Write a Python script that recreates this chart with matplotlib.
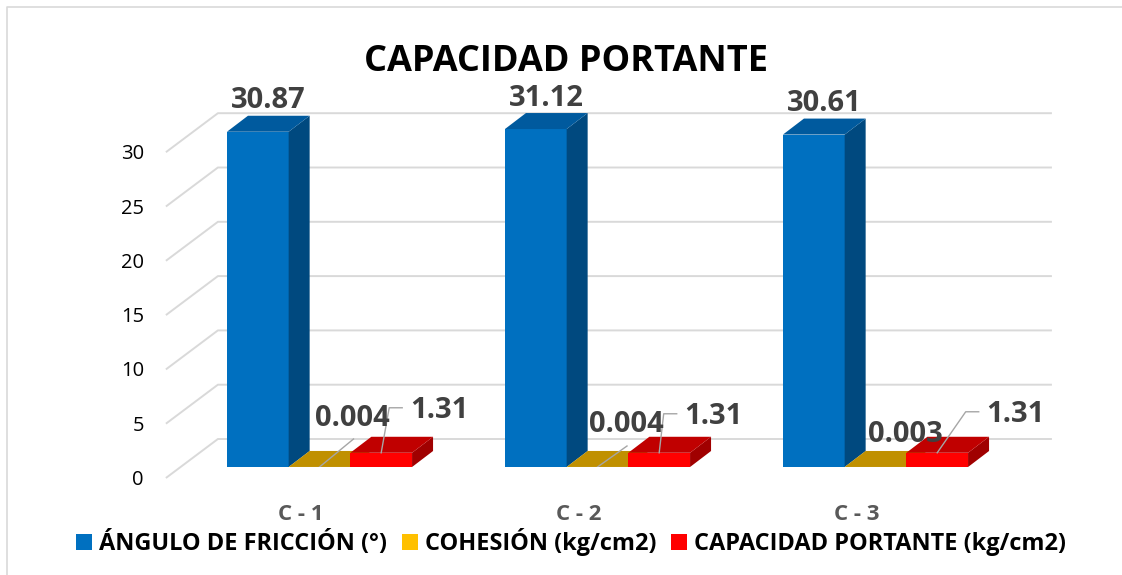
import matplotlib
matplotlib.use("Agg")
import matplotlib.pyplot as plt
from matplotlib.patches import Patch
from matplotlib.lines import Line2D

plt.rcParams['font.family'] = ['Open Sans', 'DejaVu Sans']

# Data
categories = ["C - 1", "C - 2", "C - 3"]
series_names = ["ÁNGULO DE FRICCIÓN (°)", "COHESIÓN (kg/cm2)", "CAPACIDAD PORTANTE (kg/cm2)"]
angulo = [30.87, 31.12, 30.61]
cohesion = [0.004, 0.004, 0.003]
capacidad = [1.31, 1.31, 1.31]
cohesion_labels = ["0.004", "0.004", "0.003"]
yticks = [0, 5, 10, 15, 20, 25, 30]

# Colours per series: front, side, top
front_cols = ["#0070C0", "#FFC000", "#FF0000"]
side_cols = ["#00497F", "#A07800", "#A00000"]
top_cols = ["#005A9E", "#C09000", "#C00000"]

# Layout (pixels in a 1122x575 canvas)
W_PX, H_PX = 1122, 575
AX_L, AX_R = 180.5, 1014.5
Y0 = 467            # row of value 0 on the bar front plane
PPU = 10.86         # pixels per value unit
YMAX = 35
kx = 3 / (AX_R - AX_L)
ky = 1 / PPU

FRONT = (-14.6, -11)    # front wall offset from bar plane
BACK = (37.4, 28)       # back wall offset
DEPTH = (21, 16)        # bar depth
BAR_W = 61.7 * kx

# label offsets (pixels, y up)
coh_off = [(33, 49), (28.5, 42), (30, 32)]
coh_leader = [True, True, False]
cap_off = [(29, 42), (25.5, 36), (49.5, 38)]

fig = plt.figure(figsize=(W_PX / 100, H_PX / 100), dpi=100)
ax = fig.add_axes([AX_L / W_PX, (H_PX - Y0) / H_PX,
                   (AX_R - AX_L) / W_PX, YMAX * PPU / H_PX])
ax.set_xlim(-0.5, 2.5)
ax.set_ylim(0, YMAX)
ax.axis("off")


def px(x, y, dx, dy):
    return x + dx * kx, y + dy * ky


# gridlines with slanted side wall
for v in yticks:
    x0, y0 = px(-0.5, v, *FRONT)
    x1, y1 = px(-0.5, v, *BACK)
    x2, y2 = px(2.5, v, *BACK)
    ax.plot([x0, x1, x2], [y0, y1, y2], color="#D9D9D9", lw=1.4,
            zorder=1, clip_on=False, solid_capstyle="butt")
    tx, ty = px(x0, y0, -22, -2)
    ax.text(tx, ty, str(v), ha="right", va="center", fontsize=14.5,
            color="#000000")

# category labels
for i, c in enumerate(categories):
    tx, ty = px(i, 0, FRONT[0] - 4, FRONT[1] - 36)
    ax.text(tx, ty, c, ha="center", va="center", fontsize=16,
            fontweight="bold", color="#595959")

all_series = [angulo, cohesion, capacidad]
dxd, dyd = DEPTH[0] * kx, DEPTH[1] * ky
for i in range(len(categories)):
    for j, vals in enumerate(all_series):
        h = vals[i]
        x = i + (j - 1) * BAR_W
        z = 2 + i * 10 + j * 3
        ax.bar(x, h, BAR_W, color=front_cols[j], lw=0, zorder=z)
        xr = x + BAR_W / 2
        xl = x - BAR_W / 2
        ax.fill([xr, xr + dxd, xr + dxd, xr], [0, dyd, h + dyd, h],
                color=side_cols[j], lw=0, zorder=z + 1)
        ax.fill([xl, xr, xr + dxd, xl + dxd], [h, h, h + dyd, h + dyd],
                color=top_cols[j], lw=0, zorder=z + 2)

lbl_kw = dict(fontsize=21, fontweight="bold", color="#404040", zorder=50)
for i in range(len(categories)):
    # blue value labels
    xb = i - BAR_W
    tx, ty = px(xb, angulo[i], DEPTH[0] / 2, 31)
    ax.text(tx, ty, f"{angulo[i]:.2f}", ha="center", va="center", **lbl_kw)

    # cohesion labels
    xc = i
    lx, ly = px(xc, 0, *coh_off[i])
    ax.text(lx, ly, cohesion_labels[i], ha="center", va="center", **lbl_kw)
    if coh_leader[i]:
        ex, ey = px(lx, ly, 1, -21)
        ax.plot([xc, ex], [0, ey], color="#A6A6A6", lw=1, zorder=49)

    # capacidad labels
    xr = i + BAR_W
    lx, ly = px(xr, capacidad[i], *cap_off[i])
    ax.text(lx, ly, f"{capacidad[i]:.2f}", ha="left", va="center", **lbl_kw)
    bx, by = px(lx, ly, -21, 3)
    ex, ey = px(lx, ly, -8, 3)
    ax.plot([xr, bx, ex], [capacidad[i], by, ey], color="#A6A6A6", lw=1,
            zorder=49)

# title
fig.text(566 / W_PX, 1 - 62 / H_PX, "CAPACIDAD PORTANTE", ha="center",
         va="center", fontsize=26, fontweight="bold", color="#000000")

# legend
handles = [Patch(facecolor=c, edgecolor="none") for c in front_cols]
fig.legend(handles, series_names, loc="center",
           bbox_to_anchor=(571 / W_PX, 1 - 542 / H_PX), ncol=3,
           frameon=False, handlelength=0.7, handleheight=0.7,
           handletextpad=0.3, columnspacing=0.6, borderpad=0.2,
           prop=dict(size=16.9, weight="bold"))

# chart border (left and top only visible)
bx0, by0 = 7 / W_PX, 1 - 7 / H_PX
fig.add_artist(Line2D([bx0, bx0, 1], [0, by0, by0], color="#D9D9D9",
                      lw=1.2, transform=fig.transFigure))

fig.savefig("out.png", dpi=100)
